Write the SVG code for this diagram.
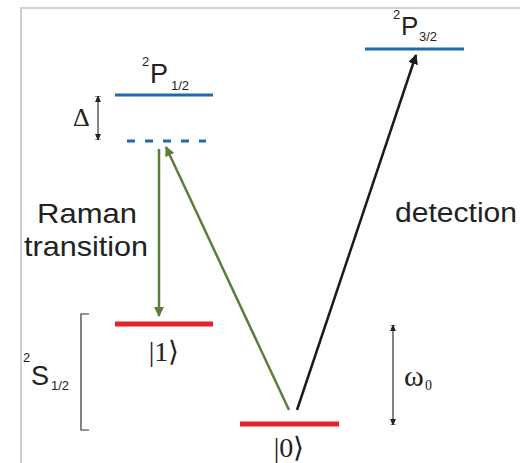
<svg xmlns="http://www.w3.org/2000/svg" width="530" height="463" viewBox="0 0 530 463">
<defs>
<marker id="ag" viewBox="0 0 10 10" refX="9" refY="5" markerWidth="4" markerHeight="4" orient="auto-start-reverse" markerUnits="strokeWidth"><path d="M0,0 L10,5 L0,10 z" fill="#5b7f3b"/></marker>
<marker id="ak" viewBox="0 0 10 10" refX="9" refY="5" markerWidth="4" markerHeight="4" orient="auto-start-reverse" markerUnits="strokeWidth"><path d="M0,0 L10,5 L0,10 z" fill="#1a1a1a"/></marker>
<marker id="dm" viewBox="0 0 10 10" refX="10" refY="5" markerWidth="5" markerHeight="5" orient="auto-start-reverse" markerUnits="strokeWidth"><path d="M0,1 L10,5 L0,9 z M10,0 L10,10" fill="#222" stroke="#222" stroke-width="1.5"/></marker>
<style>
.sans{font-family:"Liberation Sans",Arial,sans-serif;fill:#222}
.serif{font-family:"Liberation Serif","Times New Roman",serif;fill:#222}
.blue{stroke:#1f6aa8;stroke-width:3;fill:none}
.red{stroke:#e8202a;stroke-width:5;fill:none}
.frame{stroke:#d0d0d0;stroke-width:2;fill:none}
.br{stroke:#333;stroke-width:1.2;fill:none}
</style>
</defs>
<rect width="530" height="463" fill="#fff"/>
<path class="frame" d="M21,463 V8 H520"/>

<g id="P12">
<line class="blue" x1="115" y1="95" x2="213" y2="95"/>
<text class="sans" x="142" y="66" font-size="13">2</text>
<text class="sans" x="150" y="83" font-size="27">P</text>
<text class="sans" x="171" y="90" font-size="13">1/2</text>
</g>

<g id="virtual">
<line class="blue" x1="127" y1="141" x2="206" y2="141" stroke-dasharray="8 10"/>
</g>

<g id="delta">
<line class="br" x1="98" y1="96" x2="98" y2="140" marker-start="url(#dm)" marker-end="url(#dm)"/>
<text class="serif" x="73" y="126" font-size="26">Δ</text>
</g>

<g id="P32">
<line class="blue" x1="365" y1="49" x2="464" y2="49"/>
<text class="sans" x="393" y="19" font-size="13">2</text>
<text class="sans" x="401" y="35" font-size="26">P</text>
<text class="sans" x="419" y="41" font-size="13">3/2</text>
</g>

<g id="S1">
<line class="red" x1="115" y1="324" x2="213" y2="324"/>
<text class="serif" x="164" y="361" font-size="28" text-anchor="middle">|1⟩</text>
</g>

<g id="S0">
<line class="red" x1="240" y1="424" x2="339" y2="424"/>
<text class="serif" x="289" y="457" font-size="28" text-anchor="middle">|0⟩</text>
</g>

<g id="S12label">
<path class="br" d="M89,314 H81 V430 H89"/>
<text class="sans" x="23" y="362" font-size="13">2</text>
<text class="sans" x="31" y="385" font-size="27">S</text>
<text class="sans" x="51" y="390" font-size="13">1/2</text>
</g>

<g id="omega">
<line class="br" x1="393" y1="325" x2="393" y2="425" marker-start="url(#dm)" marker-end="url(#dm)"/>
<text class="serif" x="404" y="386" font-size="30">ω</text>
<text class="serif" x="425" y="390" font-size="14">0</text>
</g>

<g id="labels">
<text class="sans" x="37" y="223" font-size="28" textLength="100" lengthAdjust="spacingAndGlyphs">Raman</text>
<text class="sans" x="24" y="256" font-size="28" textLength="124" lengthAdjust="spacingAndGlyphs">transition</text>
<text class="sans" x="395" y="222" font-size="27" textLength="122" lengthAdjust="spacingAndGlyphs">detection</text>
</g>

<g id="connectors">
<line x1="159" y1="149" x2="159" y2="316" stroke="#5b7f3b" stroke-width="2.5" marker-end="url(#ag)"/>
<line x1="289" y1="410" x2="166" y2="147" stroke="#5b7f3b" stroke-width="2.5" marker-end="url(#ag)"/>
<line x1="297" y1="410" x2="416" y2="55" stroke="#1a1a1a" stroke-width="2.5" marker-end="url(#ak)"/>
</g>
</svg>
